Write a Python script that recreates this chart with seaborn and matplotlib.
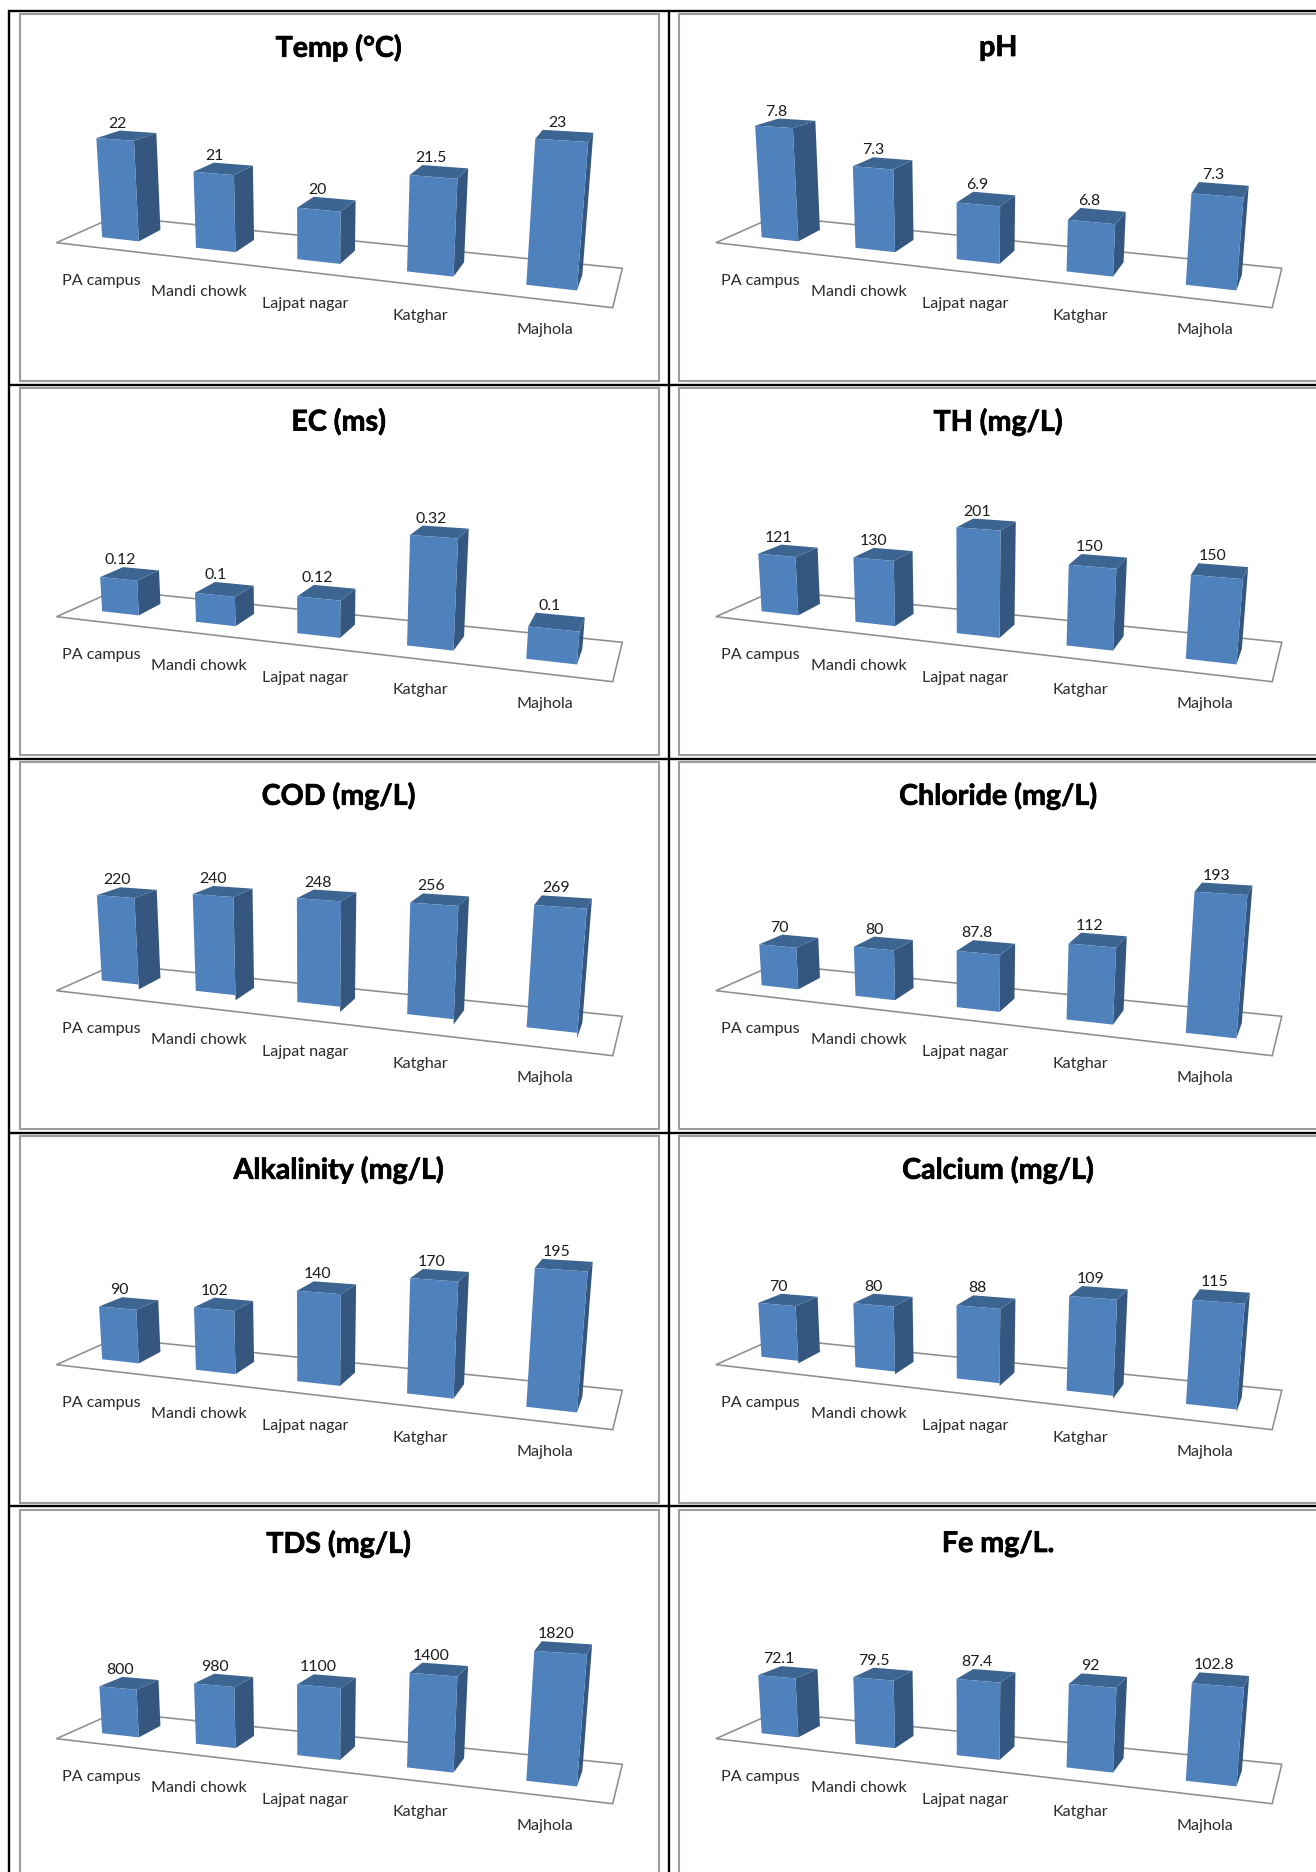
import numpy as np
import matplotlib
matplotlib.use("Agg")
import matplotlib.pyplot as plt
import matplotlib.patheffects as pe
import seaborn as sns
from matplotlib.patches import Polygon
from matplotlib.transforms import Affine2D, Transform

# Sampling sites and measured water-quality parameters
SITES = ["PA campus", "Mandi chowk", "Lajpat nagar", "Katghar", "Majhola"]
TEMP = [22, 21, 20, 21.5, 23]
PH = [7.8, 7.3, 6.9, 6.8, 7.3]
EC = [0.12, 0.1, 0.12, 0.32, 0.1]
TH = [121, 130, 201, 150, 150]
COD = [220, 240, 248, 256, 269]
CHLORIDE = [70, 80, 87.8, 112, 193]
ALKALINITY = [90, 102, 140, 170, 195]
CALCIUM = [70, 80, 88, 109, 115]
TDS = [800, 980, 1100, 1400, 1820]
FE = [72.1, 79.5, 87.4, 92, 102.8]

# title, values, axis floor value, pixels per unit at the leftmost bar
PANELS = [
    ("Temp (°C)", TEMP, 18.08, 25.4),
    ("pH", PH, 6.07, 64.6),
    ("EC (ms)", EC, 0.011, 321.0),
    ("TH (mg/L)", TH, 5.0, 0.504),
    ("COD (mg/L)", COD, -12.6, 0.39),
    ("Chloride (mg/L)", CHLORIDE, 5.0, 0.643),
    ("Alkalinity (mg/L)", ALKALINITY, 3.5, 0.621),
    ("Calcium (mg/L)", CALCIUM, -3.3, 0.782),
    ("TDS (mg/L)", TDS, 36.0, 0.0626),
    ("Fe mg/L.", FE, 1.0, 0.83),
]

FRONT = "#4F81BD"
SIDE = "#35577F"
TOP = "#3D6592"
FRAME = "#9C9C9C"
FLOOR = "#8E8E8E"

W, H = 1316, 1872
COL_STEP, ROW_STEP = 659.5, 374.0

# Perspective of the chart floor, in pixels relative to a panel's grid cell
P00 = np.array([120.35, 239.3])
P10 = np.array([551.4, 287.6])
P01 = np.array([142.5, 228.0])
G, K = -0.149, 0.04
VANISH = np.array([310.0, 3800.0])
LIFT = 3650.0
FLOOR_OUTLINE = [(56.4, 242.7), (612.7, 307.7), (622.3, 268.3), (115.2, 216.5)]


def project(t, w, s):
    """Map floor position t, depth w and lift s to panel pixels."""
    xy = (np.outer(t, P10 * (1 + G) - P00) + np.outer(w, P01 * (1 + K) - P00) + P00)
    wt = 1 + G * np.asarray(t) + K * np.asarray(w) - np.asarray(s)
    xy = xy - np.outer(s, VANISH)
    return xy / wt[:, None]


class BarProjection(Transform):
    """Carries (category position, value) onto the front plane of the chart."""
    input_dims = 2
    output_dims = 2
    is_separable = False
    has_inverse = False

    def __init__(self, base, rate):
        super().__init__()
        self.base, self.rate = base, rate

    def lift(self, values):
        return np.clip(np.asarray(values, float) - self.base, 0, None) * self.rate / LIFT

    def transform_non_affine(self, values):
        values = np.asarray(values, float)
        n = len(values)
        return project(values[:, 0] / 4.0, np.zeros(n), self.lift(values[:, 1]))


sns.set_theme(style="white")
plt.rcParams["font.family"] = ["Lato", "DejaVu Sans"]

fig = plt.figure(figsize=(W / 100, H / 100), dpi=100, facecolor="white")
sheet = fig.add_axes([0, 0, 1, 1], zorder=0)
sheet.set_xlim(0, W)
sheet.set_ylim(H, 0)
sheet.set_axis_off()

# Table rules and the chart frames inside each cell
rule_kw = dict(color="black", lw=1.7, solid_capstyle="butt")
for x in (9, 669):
    sheet.plot([x, x], [10, H], **rule_kw)
for r in range(5):
    sheet.plot([8, W], [11 + r * ROW_STEP - (1 if r == 4 else 0)] * 2, **rule_kw)
for r in range(5):
    for c in range(2):
        x0 = 19.5 + c * COL_STEP
        y0 = 13.5 + r * ROW_STEP
        sheet.add_patch(plt.Rectangle((x0, y0), 639.5, 367.5, fc="white", ec=FRAME, lw=1.5))

for idx, (title, values, base, rate) in enumerate(PANELS):
    col, row = idx % 2, idx // 2
    ox, oy = col * COL_STEP, row * ROW_STEP
    cell = Affine2D().translate(ox, oy) + sheet.transData

    floor = np.array(FLOOR_OUTLINE)
    sheet.add_patch(Polygon(floor + [ox, oy], closed=True, fc="white", ec=FLOOR, lw=1.15))

    ax = fig.add_axes([(19.5 + ox) / W, 1 - (381 + oy) / H, 639.5 / W, 367.5 / H], zorder=1)
    sns.barplot(x=SITES, y=values, color=FRONT, saturation=1, width=0.4, ax=ax)
    ax.set_axis_off()

    proj = BarProjection(base, rate)
    to_cell = proj + cell
    for i, (bar, value) in enumerate(zip(ax.patches, values)):
        bar.set_transform(to_cell)
        bar.set_clip_on(False)
        bar.set_zorder(3)
        bar.set_edgecolor("none")
        tl = bar.get_x() / 4.0
        tr = (bar.get_x() + bar.get_width()) / 4.0
        s = float(proj.lift([value])[0])
        side = project([tr, tr, tr, tr], [0, 1, 1, 0], [0, 0, s, s])
        top = project([tl, tr, tr, tl], [0, 0, 1, 1], [s, s, s, s])
        ax.add_patch(Polygon(side, closed=True, fc=SIDE, ec="none", transform=cell,
                             clip_on=False, zorder=2))
        ax.add_patch(Polygon(top, closed=True, fc=TOP, ec="none", transform=cell,
                             clip_on=False, zorder=2))

        # Value above the bar and site name below the floor
        centre = project([i / 4.0], [0], [s])[0]
        ax.text(centre[0] + 2 - 1.5 * i, top[3][1] - 7, f"{value:g}", transform=cell, ha="center",
                va="center", fontsize=11.4, color="#1c1c1c", clip_on=False, zorder=4)
        foot = project([i / 4.0], [0], [0])[0]
        ax.text(foot[0] - 19.5 + 13 * i / 4.0, foot[1] + 42, SITES[i], transform=cell, ha="center",
                va="center", fontsize=11.6, color="#2a2a2a", clip_on=False, zorder=4)

    ax.text(338.7, 48, title, transform=cell, ha="center", va="center", fontsize=20.6,
            fontweight="bold", color="black", clip_on=False, zorder=4,
            path_effects=[pe.withStroke(linewidth=0.5, foreground="black")])

fig.savefig("out.png", dpi=100, facecolor="white")
